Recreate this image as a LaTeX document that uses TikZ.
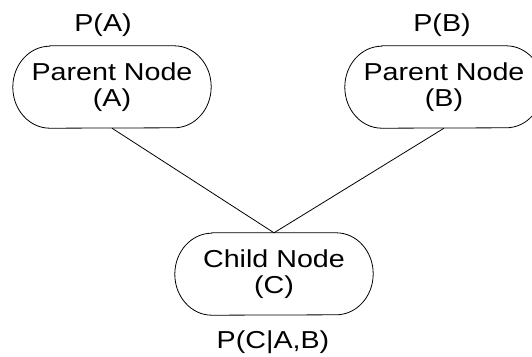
\documentclass[tikz,border=0pt]{standalone}
\usepackage{fontspec}
\setmainfont{Liberation Sans}
\newcommand\wide[1]{\scalebox{1.17}[1]{#1}}
\newcommand\pillout[1]{%
  \draw[outline] ([xshift=37pt]#1.north west) -- ([xshift=-37pt]#1.north east)
    arc[start angle=90,end angle=-90,x radius=37pt,y radius=41pt]
    -- ([xshift=37pt]#1.south west)
    arc[start angle=270,end angle=90,x radius=37pt,y radius=41pt] -- cycle;}
\begin{document}
\begin{tikzpicture}[x=1pt,y=-1pt,
  every node/.style={font=\fontsize{24.5}{26.5}\selectfont},
  pill/.style={draw=none,minimum width=198pt,minimum height=82pt,inner sep=0pt,align=center},
  outline/.style={draw=black,line width=0.8pt},
  link/.style={draw=black,line width=0.8pt},
  prob/.style={anchor=base,inner sep=0pt}]
\useasboundingbox (0,0) rectangle (532,356);
\fill[white] (0,0) rectangle (532,356);
\begin{scope}
\clip (0,0) rectangle (532,356);
\node[pill] (A) at (112,87) {\wide{Parent Node}\\\wide{(A)}};
\node[pill] (B) at (444,87) {\wide{Parent Node}\\\wide{(B)}};
\node[pill] (C) at (274,274) {\wide{Child Node}\\\wide{(C)}};
\pillout{A}
\pillout{B}
\pillout{C}
\draw[link] (A.south) -- (C.north);
\draw[link] (B.south) -- (C.north);
\end{scope}
\node[prob] (pa) at (103,31) {\wide{P(A)}};
\node[prob] (pb) at (442,31) {\wide{P(B)}};
\node[prob] (pc) at (273,348) {\wide{P(C|A,B)}};
\end{tikzpicture}
\end{document}
